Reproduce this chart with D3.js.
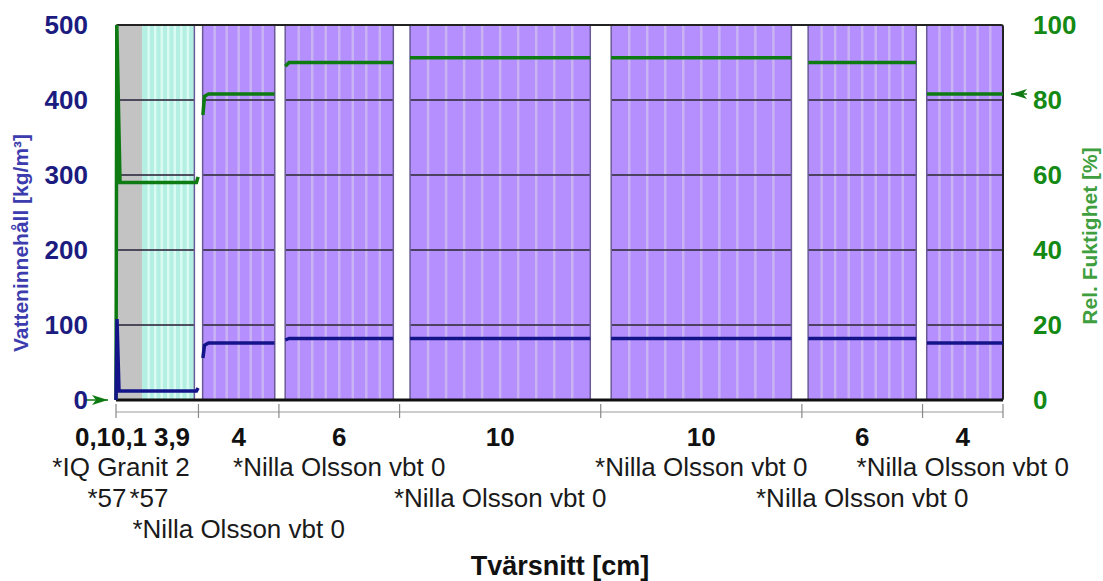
<!DOCTYPE html>
<html>
<head>
<meta charset="utf-8">
<script src="https://cdn.jsdelivr.net/npm/d3@7"></script>
<style>
  body { margin: 0; background: #fff; }
  svg { display: block; font-family: "Liberation Sans", Arial, sans-serif; }
</style>
</head>
<body>
<div id="chart"></div>
<script>
// layer build-up of the wall, left to right
const layerThk = [0.1, 0.1, 3.9, 4, 6, 10, 10, 6, 4];
const thkLabels = ["0,1", "0,1", "3,9", "4", "6", "10", "10", "6", "4"];
const layerNames = ["*IQ Granit 2", "*57", "*57", "*Nilla Olsson vbt 0", "*Nilla Olsson vbt 0",
  "*Nilla Olsson vbt 0", "*Nilla Olsson vbt 0", "*Nilla Olsson vbt 0", "*Nilla Olsson vbt 0"];
const nameRows = [1, 2, 2, 3, 1, 2, 1, 2, 1];
const layerMaterial = ["granit", "granit", "skiva", "nilla", "nilla", "nilla", "nilla", "nilla", "nilla"];
const meshLines = [0, 0, 7, 5, 7, 9, 9, 7, 5];
const grayTo = 1.3; // cm, gray part of the thin outer layers

// water content profile [cm, kg/m3], one array per drawn segment
const waterProfile = [
  [[0, 0], [0.05, 108], [0.15, 12], [4.0, 12], [4.08, 16]],
  [[4.32, 56], [4.4, 73], [4.6, 76], [7.88, 76]],
  [[8.42, 80], [8.6, 82], [13.78, 82]],
  [[14.62, 82], [23.58, 82]],
  [[24.62, 82], [33.58, 82]],
  [[34.42, 82], [39.78, 82]],
  [[40.32, 76], [44.1, 76]]
];
// relative humidity profile [cm, %]
const rhProfile = [
  [[0, 0], [0.04, 100], [0.2, 58], [4.0, 58], [4.08, 59.5]],
  [[4.32, 76], [4.4, 81], [4.6, 81.6], [7.88, 81.6]],
  [[8.42, 89], [8.6, 90], [13.78, 90]],
  [[14.62, 91.3], [23.58, 91.3]],
  [[24.62, 91.3], [33.58, 91.3]],
  [[34.42, 90], [39.78, 90]],
  [[40.32, 81.6], [44.1, 81.6]]
];
const boundaryRH = [0, 81.6];

const yTicksLeft = [0, 100, 200, 300, 400, 500];
const yTicksRight = [0, 20, 40, 60, 80, 100];

const W = 1103, H = 581;
const margin = {top: 25, right: 100, bottom: 181, left: 116};
const width = 1003 - margin.left, height = 400 - margin.top;

const svg = d3.select("#chart").append("svg")
  .attr("width", W).attr("height", H);
const g = svg.append("g")
  .attr("transform", "translate(" + margin.left + "," + margin.top + ")");

const total = d3.sum(layerThk);
const x = d3.scaleLinear().domain([0, total]).range([0, width]);
const yW = d3.scaleLinear().domain([0, 500]).range([height, 0]);
const yR = d3.scaleLinear().domain([0, 100]).range([height, 0]);

// layer geometry
let acc = 0;
const layers = layerThk.map(function(t, i) {
  const l = {i: i, t: t, x0: acc, x1: acc + t};
  acc += t;
  l.in0 = l.x0 + (i >= 3 ? 0.052 * t : 0);
  l.in1 = l.x1 - (i >= 2 && i < layerThk.length - 1 ? 0.052 * t : 0);
  return l;
});

const fills = {granit: "#c3c3c3", skiva: "#b3efe2", nilla: "#b48ffd"};
const stripeCol = {granit: "#d6d6d6", skiva: "#dafbf2", nilla: "#c9b3f2"};

// layer fills
layers.forEach(function(l) {
  const m = layerMaterial[l.i];
  let a = l.in0;
  if (l.i === 2) {
    g.append("rect").attr("x", x(l.in0)).attr("y", 0)
      .attr("width", x(grayTo) - x(l.in0)).attr("height", height)
      .attr("fill", fills.granit);
    a = grayTo;
  }
  g.append("rect").attr("x", x(a)).attr("y", 0)
    .attr("width", x(l.in1) - x(a)).attr("height", height)
    .attr("fill", fills[m]);
  const n = meshLines[l.i];
  for (let k = 1; k <= n; k++) {
    const xs = x(a) + (x(l.in1) - x(a)) * k / (n + 1);
    g.append("line").attr("x1", xs).attr("x2", xs).attr("y1", 0).attr("y2", height)
      .attr("stroke", stripeCol[m]).attr("stroke-width", 2.5);
  }
});

// horizontal grid
g.selectAll(".grid").data(yTicksLeft.slice(1, -1)).enter().append("line")
  .attr("x1", 0).attr("x2", width)
  .attr("y1", function(d) { return yW(d); }).attr("y2", function(d) { return yW(d); })
  .attr("stroke", "#3a3448").attr("stroke-width", 2).attr("opacity", 0.85);

// white gaps between layers
layers.forEach(function(l, i) {
  if (i < 2 || i === layers.length - 1) return;
  const nx = layers[i + 1];
  g.append("rect").attr("x", x(l.in1)).attr("y", 0)
    .attr("width", x(nx.in0) - x(l.in1)).attr("height", height)
    .attr("fill", "#fff");
  g.append("line").attr("x1", x(l.in1)).attr("x2", x(l.in1)).attr("y1", 0).attr("y2", height)
    .attr("stroke", "#6a5a98").attr("stroke-width", 1.5);
  g.append("line").attr("x1", x(nx.in0)).attr("x2", x(nx.in0)).attr("y1", 0).attr("y2", height)
    .attr("stroke", "#6a5a98").attr("stroke-width", 1.5);
});

// frame
g.append("rect").attr("x", 0).attr("y", 0).attr("width", width).attr("height", height)
  .attr("fill", "none").attr("stroke", "#222").attr("stroke-width", 2).attr("rx", 2);
g.append("line").attr("x1", 0).attr("x2", width).attr("y1", height).attr("y2", height)
  .attr("stroke", "#111").attr("stroke-width", 3);

// profiles
const lineW = d3.line().x(function(d) { return x(d[0]); }).y(function(d) { return yW(d[1]); });
const lineR = d3.line().x(function(d) { return x(d[0]); }).y(function(d) { return yR(d[1]); });
rhProfile.forEach(function(seg) {
  g.append("path").attr("d", lineR(seg)).attr("fill", "none")
    .attr("stroke", "#0e7a12").attr("stroke-width", 3.5);
});
waterProfile.forEach(function(seg) {
  g.append("path").attr("d", lineW(seg)).attr("fill", "none")
    .attr("stroke", "#14148a").attr("stroke-width", 3.5);
});

// boundary markers
g.append("path")
  .attr("d", "M" + (-8) + "," + yR(boundaryRH[0]) + " l-16,-5 l4,5 l-4,5 z")
  .attr("fill", "#0e7a12");
g.append("path")
  .attr("d", "M" + (width + 8) + "," + yR(boundaryRH[1]) + " l16,-5 l-4,5 l4,5 z")
  .attr("fill", "#0e7a12");
g.append("line").attr("x1", -30).attr("x2", -8)
  .attr("y1", yR(boundaryRH[0])).attr("y2", yR(boundaryRH[0]))
  .attr("stroke", "#0e7a12").attr("stroke-width", 1.5);
g.append("line").attr("x1", width + 8).attr("x2", width + 24)
  .attr("y1", yR(boundaryRH[1])).attr("y2", yR(boundaryRH[1]))
  .attr("stroke", "#0e7a12").attr("stroke-width", 1.5);

// y axes
const axL = g.append("g").attr("transform", "translate(-28,0)")
  .call(d3.axisLeft(yW).tickValues(yTicksLeft).tickSize(0).tickPadding(0));
axL.select(".domain").remove();
axL.selectAll("text").attr("fill", "#1c1c80").style("font-size", "26px")
  .style("font-weight", "bold").style("font-family", "Liberation Sans, Arial, sans-serif");

const axR = g.append("g").attr("transform", "translate(" + (width + 30) + ",0)")
  .call(d3.axisRight(yR).tickValues(yTicksRight).tickSize(0).tickPadding(0));
axR.select(".domain").remove();
axR.selectAll("text").attr("fill", "#148a14").style("font-size", "26px")
  .style("font-weight", "bold").style("font-family", "Liberation Sans, Arial, sans-serif");

svg.append("text")
  .attr("transform", "translate(28,243) rotate(-90)")
  .attr("text-anchor", "middle")
  .attr("fill", "#3c3cae").style("font-size", "21px").style("font-weight", "bold")
  .text("Vatteninnehåll [kg/m³]");
svg.append("text")
  .attr("transform", "translate(1097,236) rotate(-90)")
  .attr("text-anchor", "middle")
  .attr("fill", "#3f9f3f").style("font-size", "21px").style("font-weight", "bold")
  .text("Rel. Fuktighet [%]");

// dimension line under the wall
const dimY = height + 12;
g.append("line").attr("x1", 0).attr("x2", width).attr("y1", dimY).attr("y2", dimY)
  .attr("stroke", "#999").attr("stroke-width", 1.2);
const dimTicks = [0].concat(layers.filter(function(l) { return l.i >= 2; }).map(function(l) { return l.x1; }));
g.selectAll(".dimtick").data(dimTicks).enter().append("line")
  .attr("x1", function(d) { return x(d); }).attr("x2", function(d) { return x(d); })
  .attr("y1", dimY - 8).attr("y2", dimY + 6)
  .attr("stroke", "#888").attr("stroke-width", 1.2);

// thickness labels; thin outer layers are spread out to stay readable
const thinLabelX = [-23, 13, 56];
g.selectAll(".thk").data(layers).enter().append("text")
  .attr("x", function(d) { return d.i < 3 ? thinLabelX[d.i] : x((d.x0 + d.x1) / 2); })
  .attr("y", height + 46)
  .attr("text-anchor", "middle")
  .attr("fill", "#111").style("font-size", "26px").style("font-weight", "bold")
  .text(function(d) { return thkLabels[d.i]; });

// material names in three rows
const thinNameX = [5, -9, 33];
g.selectAll(".name").data(layers).enter().append("text")
  .attr("x", function(d) { return d.i < 3 ? thinNameX[d.i] : x((d.x0 + d.x1) / 2); })
  .attr("y", function(d) { return height + 76 + (nameRows[d.i] - 1) * 31; })
  .attr("text-anchor", "middle")
  .attr("fill", "#1a1a1a").style("font-size", "26px")
  .text(function(d) { return layerNames[d.i]; });

svg.append("text")
  .attr("x", 560).attr("y", 575)
  .attr("text-anchor", "middle")
  .attr("fill", "#111").style("font-size", "27px").style("font-weight", "bold")
  .text("Tvärsnitt [cm]");
</script>
</body>
</html>
